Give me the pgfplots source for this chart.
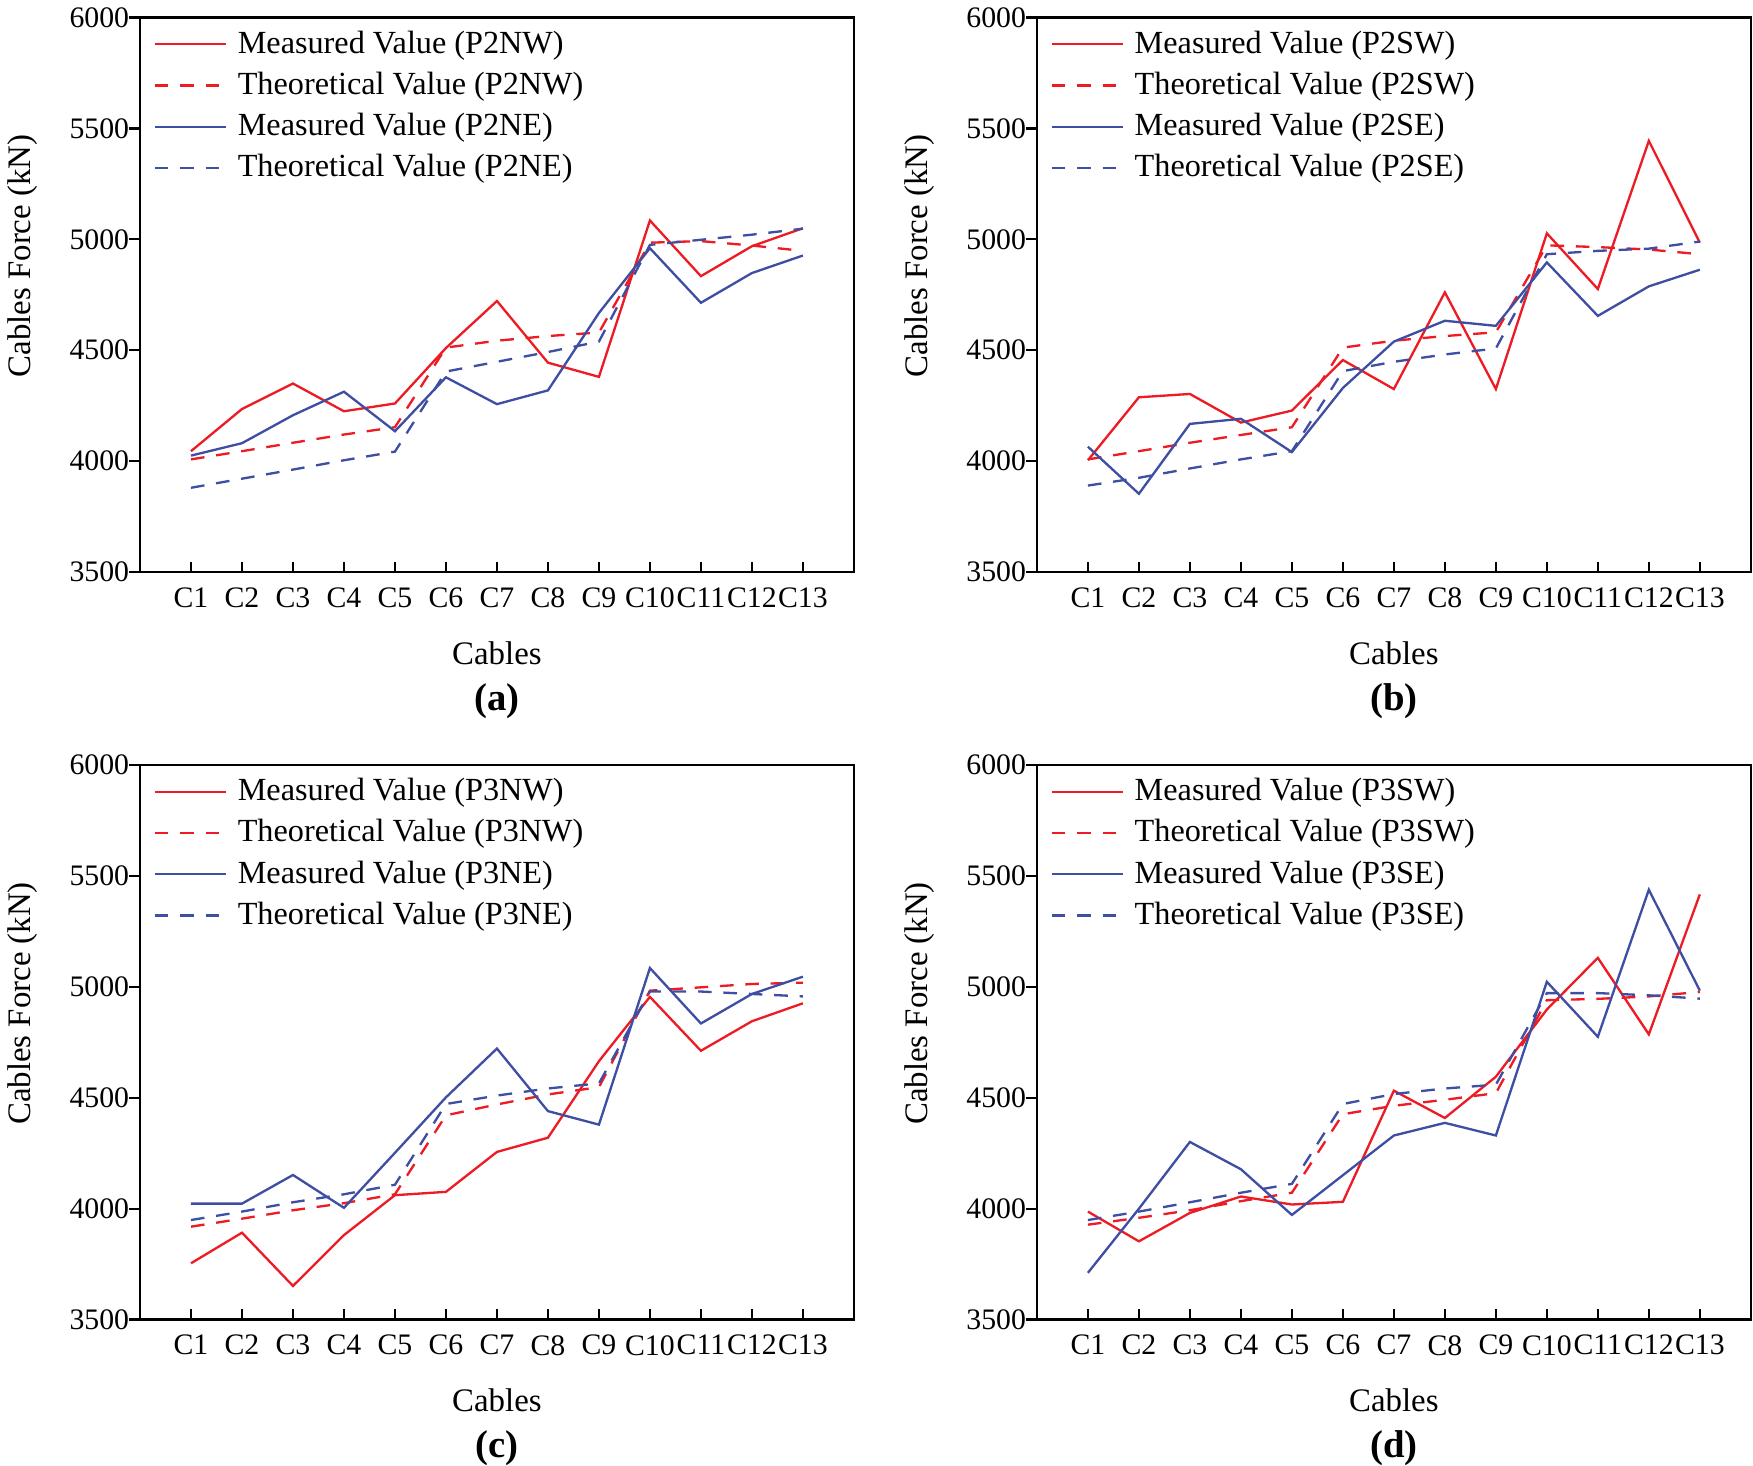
\documentclass[border=0pt]{standalone}
\usepackage{fontspec}
\setmainfont{Liberation Serif}
\usepackage{pgfplots}
\usepackage{pgfplotstable}
\pgfplotsset{compat=1.18}

\definecolor{mred}{RGB}{237,28,36}
\definecolor{mblue}{RGB}{62,78,163}

% columns: cable index, red measured, red theoretical, blue measured, blue theoretical
\pgfplotstableread{
x  rm    rt    bm    bt
1  4045  4008  4025  3880
2  4235  4045  4081  3921
3  4350  4083  4207  3962
4  4225  4120  4313  4004
5  4260  4153  4135  4043
6  4510  4512  4378  4404
7  4722  4543  4257  4448
8  4444  4564  4319  4492
9  4380  4580  4668  4539
10 5085  4985  4960  4975
11 4834  4992  4714  4998
12 4969  4972  4848  5021
13 5050  4948  4927  5048
}\dataA
\pgfplotstableread{
x  rm    rt    bm    bt
1  4004  4008  4065  3890
2  4288  4045  3853  3925
3  4303  4083  4168  3967
4  4174  4118  4191  4008
5  4228  4153  4041  4045
6  4456  4512  4330  4406
7  4325  4543  4539  4448
8  4761  4564  4633  4481
9  4325  4581  4610  4508
10 5027  4973  4896  4933
11 4776  4965  4655  4948
12 5444  4954  4788  4958
13 4985  4933  4863  4990
}\dataB
\pgfplotstableread{
x  rm    rt    bm    bt
1  3754  3919  4023  3949
2  3892  3955  4023  3987
3  3652  3993  4152  4029
4  3881  4025  4004  4065
5  4061  4065  4252  4108
6  4076  4421  4502  4472
7  4256  4470  4722  4510
8  4320  4515  4440  4542
9  4665  4548  4379  4565
10 4955  4983  5085  4979
11 4712  4998  4835  4979
12 4845  5013  4968  4968
13 4926  5019  5046  4957
}\dataC
\pgfplotstableread{
x  rm    rt    bm    bt
1  3987  3928  3711  3949
2  3853  3959  4000  3987
3  3981  3993  4301  4029
4  4055  4034  4178  4072
5  4019  4072  3972  4112
6  4031  4426  4151  4472
7  4532  4464  4330  4517
8  4409  4491  4387  4542
9  4595  4521  4330  4559
10 4898  4940  5023  4972
11 5131  4946  4775  4972
12 4786  4957  5438  4962
13 5417  4977  4983  4947
}\dataD

\pgfplotsset{
  panel/.style={
    scale only axis, width=230.3pt, height=178.9pt,
    anchor=north west,
    xmin=0, xmax=14, ymin=3500, ymax=6000,
    xtick={1,...,13},
    xticklabels={C1,C2,C3,C4,C5,C6,C7,C8,C9,C10,C11,C12,C13},
    ytick={3500,4000,...,6000},
    tick pos=left,
    xtick align=inside, ytick align=outside,
    major tick length=3.4pt,
    tick style={black, line width=0.75pt},
    axis line style={line width=0.8pt},
    ticklabel style={font=\fontsize{9.6}{11}\selectfont},
    xticklabel style={yshift=-1.5pt},
    yticklabel style={xshift=3.4pt},
    /pgf/number format/assume math mode=true,
    /pgf/number format/1000 sep={},
    label style={font=\fontsize{10.6}{12}\selectfont},
    xlabel={Cables}, ylabel={Cables Force (kN)},
    xlabel style={at={(axis description cs:0.5,-0.146)}, anchor=center},
    ylabel style={at={(axis description cs:-0.165,0.570)}, anchor=center},
    legend cell align=left,
    legend image code/.code={\draw[##1] (0pt,0pt) -- (22.9pt,0pt);},
    legend style={draw=none, fill=none, at={(axis description cs:0,1)},
      anchor=north west, xshift=4.2pt, yshift=-4.05pt, inner sep=0pt,
      row sep=4.6pt, column sep=3.5pt,
      nodes={inner sep=0pt, font=\fontsize{10.4}{12}\selectfont}},
  },
  meas/.style={solid, line width=0.75pt, mark=none},
  theo/.style={dash pattern=on 4.4pt off 3.8pt, line width=0.75pt, mark=none},
}

\begin{document}
\begin{tikzpicture}
\path[use as bounding box] (0,0) rectangle (565.5pt,-472.9pt);

\begin{axis}[panel, name=a, at={(45.16pt,-5.65pt)}]
\addplot[meas, mred] table[x=x, y=rm] {\dataA};
\addplot[theo, mred] table[x=x, y=rt] {\dataA};
\addplot[meas, mblue] table[x=x, y=bm] {\dataA};
\addplot[theo, mblue] table[x=x, y=bt] {\dataA};
\legend{Measured Value (P2NW), Theoretical Value (P2NW), Measured Value (P2NE), Theoretical Value (P2NE)}
\end{axis}

\begin{axis}[panel, name=b, at={(334.5pt,-5.65pt)}]
\addplot[meas, mred] table[x=x, y=rm] {\dataB};
\addplot[theo, mred] table[x=x, y=rt] {\dataB};
\addplot[meas, mblue] table[x=x, y=bm] {\dataB};
\addplot[theo, mblue] table[x=x, y=bt] {\dataB};
\legend{Measured Value (P2SW), Theoretical Value (P2SW), Measured Value (P2SE), Theoretical Value (P2SE)}
\end{axis}

\begin{axis}[panel, name=c, at={(45.16pt,-246.8pt)}]
\addplot[meas, mred] table[x=x, y=rm] {\dataC};
\addplot[theo, mred] table[x=x, y=rt] {\dataC};
\addplot[meas, mblue] table[x=x, y=bm] {\dataC};
\addplot[theo, mblue] table[x=x, y=bt] {\dataC};
\legend{Measured Value (P3NW), Theoretical Value (P3NW), Measured Value (P3NE), Theoretical Value (P3NE)}
\end{axis}

\begin{axis}[panel, name=d, at={(334.5pt,-246.8pt)}]
\addplot[meas, mred] table[x=x, y=rm] {\dataD};
\addplot[theo, mred] table[x=x, y=rt] {\dataD};
\addplot[meas, mblue] table[x=x, y=bm] {\dataD};
\addplot[theo, mblue] table[x=x, y=bt] {\dataD};
\legend{Measured Value (P3SW), Theoretical Value (P3SW), Measured Value (P3SE), Theoretical Value (P3SE)}
\end{axis}

\foreach \p in {a,b,c,d}
  \node[font=\fontsize{12.5}{14}\selectfont\bfseries, yshift=-41.6pt] at (\p.south) {(\p)};
\end{tikzpicture}
\end{document}
